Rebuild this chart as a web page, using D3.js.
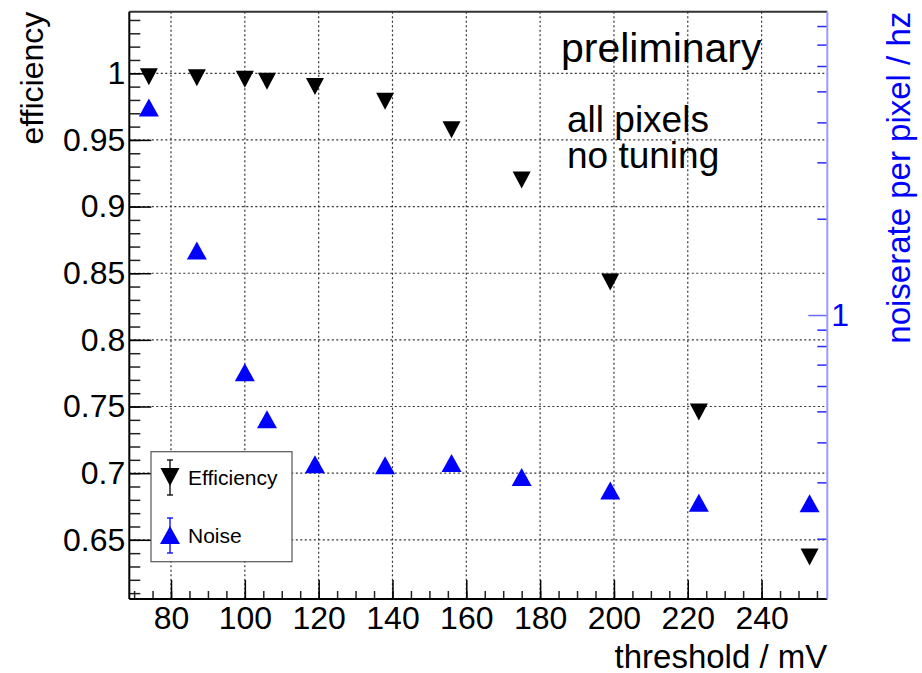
<!DOCTYPE html>
<html>
<head>
<meta charset="utf-8">
<script src="https://cdn.jsdelivr.net/npm/d3@7"></script>
<style>
  body { margin: 0; background: #fff; }
  text { font-family: "Liberation Sans", Arial, sans-serif; }
</style>
</head>
<body>
<svg id="svg" width="922" height="673"></svg>
<script>
// thresholds in mV
var thresholds = [74, 87, 100, 106, 119, 138, 156, 175, 199, 223, 253];
var efficiency = [0.9974, 0.9966, 0.9956, 0.994, 0.990, 0.979, 0.9577, 0.920, 0.8434, 0.7458, 0.6371];
var noiserate = [4.45, 1.59, 0.662, 0.472, 0.342, 0.339, 0.345, 0.312, 0.283, 0.259, 0.258];

var xMajor = [80, 100, 120, 140, 160, 180, 200, 220, 240];
var effMajor = [0.65, 0.7, 0.75, 0.8, 0.85, 0.9, 0.95, 1];
var noiseMinor = [0.2, 0.3, 0.4, 0.5, 0.6, 0.7, 0.8, 0.9, 2, 3, 4, 5, 6, 7, 8];
var noiseMajor = [1];

var svg = d3.select("#svg");

var padL = 129.3, padR = 827.3, padT = 11.7, padB = 599;

var x = d3.scaleLinear().domain([68.7, 257.8]).range([padL, padR]);
var y = d3.scaleLinear().domain([0.6056, 1.0462]).range([padB, padT]);
var yR = d3.scaleLog().domain([0.1296, 8.87]).range([padB, padT]);

svg.append("rect").attr("width", 922).attr("height", 673).attr("fill", "#fff");

// grid
var grid = svg.append("g").attr("class", "grid")
    .attr("stroke", "#111")
    .attr("stroke-width", 1.2)
    .attr("stroke-dasharray", "2,2.5")
    .attr("opacity", 0.85);

grid.selectAll("line.gx")
  .data(xMajor)
  .enter().append("line")
    .attr("class", "gx")
    .attr("x1", function(d) { return x(d); })
    .attr("x2", function(d) { return x(d); })
    .attr("y1", padT)
    .attr("y2", padB);

grid.selectAll("line.gy")
  .data(effMajor)
  .enter().append("line")
    .attr("class", "gy")
    .attr("x1", padL)
    .attr("x2", padR)
    .attr("y1", function(d) { return y(d); })
    .attr("y2", function(d) { return y(d); });

// left axis (efficiency), ticks pointing inward
var minorEff = d3.range(61, 105).map(function(d) { return d / 100; });

svg.append("g")
    .attr("transform", "translate(" + padL + ",0)")
    .call(d3.axisLeft(y).tickValues(minorEff).tickSize(-11).tickSizeOuter(0).tickFormat(""))
    .call(function(g) { g.select(".domain").remove(); g.selectAll("line").attr("stroke", "#222").attr("stroke-width", 1.5); });

svg.append("g")
    .attr("transform", "translate(" + padL + ",0)")
    .call(d3.axisLeft(y).tickValues(effMajor).tickSize(-22).tickSizeOuter(0).tickPadding(4)
      .tickFormat(function(d) { return String(+d.toFixed(2)); }))
    .call(function(g) {
      g.select(".domain").remove();
      g.selectAll("line").attr("stroke", "#000").attr("stroke-width", 1.5);
      g.selectAll("text").attr("font-size", 32).attr("fill", "#000")
        .attr("font-family", "Liberation Sans, Arial, sans-serif");
    });

// bottom axis
var minorX = d3.range(70, 258, 5);

svg.append("g")
    .attr("transform", "translate(0," + padB + ")")
    .call(d3.axisBottom(x).tickValues(minorX).tickSize(-8).tickSizeOuter(0).tickFormat(""))
    .call(function(g) { g.select(".domain").remove(); g.selectAll("line").attr("stroke", "#222").attr("stroke-width", 1.5); });

svg.append("g")
    .attr("transform", "translate(0," + padB + ")")
    .call(d3.axisBottom(x).tickValues(xMajor).tickSize(-19).tickSizeOuter(0).tickPadding(7))
    .call(function(g) {
      g.select(".domain").remove();
      g.selectAll("line").attr("stroke", "#000").attr("stroke-width", 1.5);
      g.selectAll("text").attr("font-size", 32).attr("fill", "#000")
        .attr("font-family", "Liberation Sans, Arial, sans-serif");
    });

// right axis (noise rate, log)
svg.append("g")
    .attr("transform", "translate(" + padR + ",0)")
    .call(d3.axisRight(yR).tickValues(noiseMinor).tickSize(-10).tickSizeOuter(0).tickFormat(""))
    .call(function(g) { g.select(".domain").remove(); g.selectAll("line").attr("stroke", "#2a2aff").attr("stroke-width", 1.5); });

svg.append("g")
    .attr("transform", "translate(" + padR + ",0)")
    .call(d3.axisRight(yR).tickValues(noiseMajor).tickSize(-19).tickSizeOuter(0).tickPadding(4).tickFormat(d3.format("d")))
    .call(function(g) {
      g.select(".domain").remove();
      g.selectAll("line").attr("stroke", "#6a6aff").attr("stroke-width", 1.5);
      g.selectAll("text").attr("font-size", 32).attr("fill", "#0000ff")
        .attr("font-family", "Liberation Sans, Arial, sans-serif");
    });

// frame
svg.append("line").attr("x1", padL).attr("x2", padR).attr("y1", padT).attr("y2", padT)
    .attr("stroke", "#333").attr("stroke-width", 2);
svg.append("line").attr("x1", padL).attr("x2", padR).attr("y1", padB).attr("y2", padB)
    .attr("stroke", "#000").attr("stroke-width", 2);
svg.append("line").attr("x1", padL).attr("x2", padL).attr("y1", padT).attr("y2", padB)
    .attr("stroke", "#000").attr("stroke-width", 2);
svg.append("line").attr("x1", padR).attr("x2", padR).attr("y1", padT).attr("y2", padB)
    .attr("stroke", "#9a9aff").attr("stroke-width", 2);

// markers
var downTri = function(cx, cy, w, h) {
  return "M" + (cx - w / 2) + "," + (cy - h / 2) + "L" + (cx + w / 2) + "," + (cy - h / 2) + "L" + cx + "," + (cy + h / 2) + "Z";
};
var upTri = function(cx, cy, w, h) {
  return "M" + (cx - w / 2) + "," + (cy + h / 2) + "L" + (cx + w / 2) + "," + (cy + h / 2) + "L" + cx + "," + (cy - h / 2) + "Z";
};

svg.append("g").attr("class", "noise")
  .selectAll("path")
  .data(thresholds)
  .enter().append("path")
    .attr("fill", "#0000ff")
    .attr("d", function(d, i) { return upTri(x(d), yR(noiserate[i]), 20, 18); });

svg.append("g").attr("class", "efficiency")
  .selectAll("path")
  .data(thresholds)
  .enter().append("path")
    .attr("fill", "#000")
    .attr("d", function(d, i) { return downTri(x(d), y(efficiency[i]), 18, 17); });

// axis titles
svg.append("text")
    .attr("transform", "translate(43," + padT + ") rotate(-90)")
    .attr("text-anchor", "end")
    .attr("font-size", 32)
    .attr("fill", "#000")
    .text("efficiency");

svg.append("text")
    .attr("x", padR)
    .attr("y", 668)
    .attr("text-anchor", "end")
    .attr("font-size", 33)
    .attr("fill", "#000")
    .text("threshold / mV");

svg.append("text")
    .attr("transform", "translate(910," + padT + ") rotate(-90)")
    .attr("text-anchor", "end")
    .attr("font-size", 33)
    .attr("fill", "#0000ff")
    .text("noiserate per pixel / hz");

// annotations
svg.append("text").attr("x", 561).attr("y", 62).attr("font-size", 41).attr("fill", "#000").text("preliminary");
svg.append("text").attr("x", 567).attr("y", 132).attr("font-size", 37).attr("fill", "#000").text("all pixels");
svg.append("text").attr("x", 567).attr("y", 168).attr("font-size", 37).attr("fill", "#000").text("no tuning");

// legend
var legend = svg.append("g").attr("class", "legend");
legend.append("rect")
    .attr("x", 151).attr("y", 451.7).attr("width", 141).attr("height", 110)
    .attr("fill", "#fff").attr("stroke", "#555").attr("stroke-width", 1.2);

var legendItems = [
  {name: "Efficiency", color: "#000", cy: 477, down: true},
  {name: "Noise", color: "#0000ff", cy: 535, down: false}
];

legendItems.forEach(function(it) {
  var lg = legend.append("g");
  lg.append("line").attr("x1", 170).attr("x2", 170).attr("y1", it.cy - 17).attr("y2", it.cy + 18)
      .attr("stroke", it.color).attr("stroke-width", 1.3);
  lg.append("line").attr("x1", 167).attr("x2", 173).attr("y1", it.cy - 17).attr("y2", it.cy - 17)
      .attr("stroke", it.color).attr("stroke-width", 1.3);
  lg.append("line").attr("x1", 167).attr("x2", 173).attr("y1", it.cy + 18).attr("y2", it.cy + 18)
      .attr("stroke", it.color).attr("stroke-width", 1.3);
  lg.append("path").attr("fill", it.color)
      .attr("d", it.down ? downTri(170, it.cy, 19, 18) : upTri(170, it.cy, 20, 18));
  lg.append("text").attr("x", 188).attr("y", it.cy + 8).attr("font-size", 21).attr("fill", "#000").text(it.name);
});
</script>
</body>
</html>
